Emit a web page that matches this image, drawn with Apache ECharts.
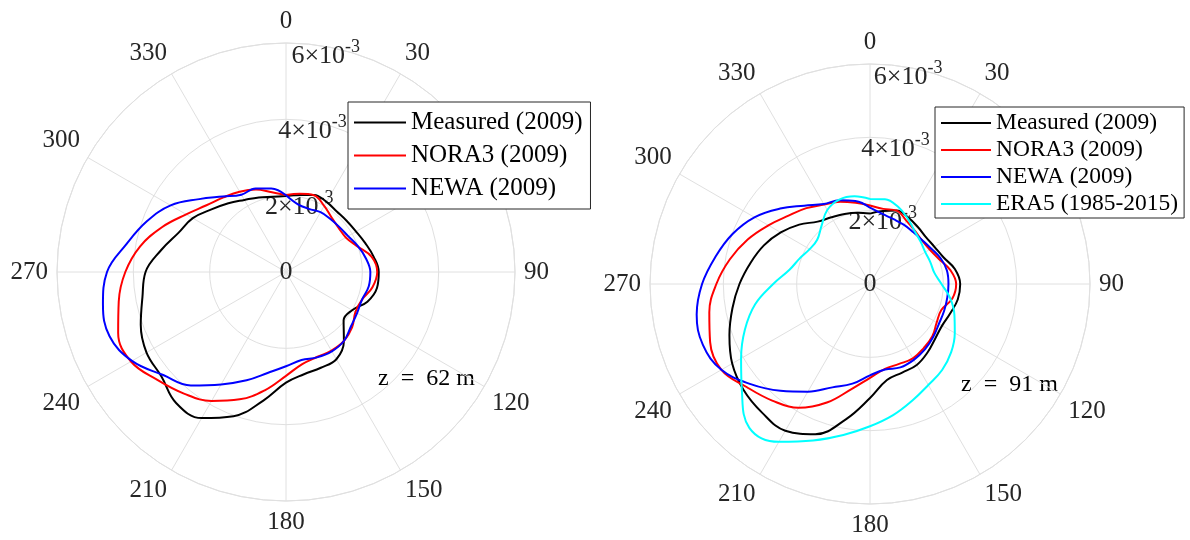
<!DOCTYPE html>
<html>
<head>
<meta charset="utf-8">
<script src="https://cdn.jsdelivr.net/npm/echarts@6/dist/echarts.min.js"></script>
<style>
  html, body { margin: 0; padding: 0; background: #fff; }
  #main { width: 1190px; height: 540px; }
</style>
</head>
<body>
<div id="main"></div>
<script>
// wind direction (deg, clockwise from north)
var dirs = [0,10,20,30,40,50,60,70,80,90,100,110,120,130,140,150,160,170,
            180,190,200,210,220,230,240,250,260,270,280,290,300,310,320,330,340,350];

// values in units of 1e-3, z = 62 m
var measured62 = [1.99,2.05,2.15,2.12,2.07,2.08,2.12,2.21,2.33,2.43,2.42,2.27,2.00,1.97,2.36,2.64,2.67,2.72,
                  2.90,3.42,4.02,4.42,4.48,4.26,4.22,4.05,3.82,3.68,3.32,3.00,2.82,2.55,2.35,2.18,2.08,2.00];
var nora62 = [2.02,2.08,2.14,2.00,1.86,1.80,1.81,1.98,2.28,2.39,2.30,2.12,2.10,2.26,2.36,2.38,2.37,2.45,
              2.72,3.14,3.55,3.90,4.16,4.40,4.69,4.68,4.45,4.21,3.88,3.45,3.02,2.72,2.55,2.43,2.30,2.12];
var newa62 = [2.01,1.80,1.76,1.81,1.81,1.83,1.88,2.00,2.12,2.21,2.20,2.12,2.15,2.22,2.36,2.40,2.38,2.34,
              2.47,2.68,3.02,3.40,3.88,4.20,4.66,4.92,4.87,4.69,4.24,3.88,3.49,2.97,2.58,2.34,2.33,2.22];

// z = 91 m
var measured91 = [1.92,2.02,2.13,2.09,2.03,1.99,2.03,2.13,2.35,2.46,2.43,2.33,2.27,2.32,2.44,2.55,2.57,2.66,
                  3.11,3.74,4.36,4.62,4.58,4.50,4.34,4.08,3.81,3.56,3.31,3.08,2.81,2.52,2.22,2.10,2.03,1.97];
var nora91 = [2.14,2.08,2.13,1.99,1.90,1.85,1.88,2.00,2.22,2.35,2.28,2.07,2.10,2.22,2.28,2.34,2.32,2.35,
              2.56,2.91,3.44,3.90,4.15,4.38,4.68,4.64,4.45,4.19,3.88,3.55,3.20,2.90,2.70,2.50,2.39,2.25];
var newa91 = [2.08,1.94,1.88,1.86,1.84,1.86,1.93,2.05,2.13,2.14,2.14,2.15,2.17,2.25,2.33,2.39,2.42,2.37,
              2.49,2.76,3.00,3.39,3.80,4.25,4.68,4.85,4.80,4.58,4.28,3.99,3.64,3.20,2.79,2.52,2.43,2.30];
var era91 = [2.32,2.35,2.24,2.06,1.89,1.80,1.74,1.75,1.78,1.95,2.22,2.45,2.67,2.89,3.06,3.18,3.38,3.63,
             3.88,4.18,4.54,4.97,5.12,4.56,4.06,3.63,3.18,2.64,2.23,2.04,1.90,1.88,2.06,2.33,2.45,2.43];

var names62 = ['Measured (2009)', 'NORA3 (2009)', 'NEWA (2009)'];
var names91 = ['Measured (2009)', 'NORA3 (2009)', 'NEWA (2009)', 'ERA5 (1985-2015)'];
var colors = ['#000000', '#ff0000', '#0000ff', '#00ffff'];
var heightLabels = ['z  =  62 m', 'z  =  91 m'];
var rMax = 6, rStep = 2;

var FONT = 'Liberation Serif';
var gridColor = '#e0e0e0';
var textColor = '#262626';

function loop(r) {
    var d = [];
    for (var i = 0; i < dirs.length; i++) d.push([r[i], dirs[i]]);
    d.push([r[0], 360]);
    return d;
}

function gridAngle(pi) {
    return {
        polarIndex: pi, type: 'value', min: 0, max: 360, interval: 30,
        startAngle: 90, clockwise: true,
        axisLine: {lineStyle: {color: gridColor, width: 1}},
        axisTick: {show: false},
        splitLine: {lineStyle: {color: gridColor, width: 1}},
        axisLabel: {color: textColor, fontFamily: FONT, fontSize: 25, margin: 9}
    };
}
function gridRadius(pi) {
    return {
        polarIndex: pi, type: 'value', min: 0, max: rMax, interval: rStep,
        axisLine: {show: false}, axisTick: {show: false}, axisLabel: {show: false},
        splitLine: {lineStyle: {color: gridColor, width: 1}}
    };
}
// second polar rotated by 10 deg only to carry the r tick labels
function labelAngle(pi) {
    return {polarIndex: pi, type: 'value', min: 0, max: 360, startAngle: 80, clockwise: true, show: false};
}
function labelRadius(pi) {
    return {
        polarIndex: pi, type: 'value', min: 0, max: rMax, interval: rStep,
        axisLine: {show: false}, axisTick: {show: false}, splitLine: {show: false},
        axisLabel: {
            margin: 0, align: 'center', verticalAlign: 'middle',
            formatter: function (v) {
                return v === 0 ? '{z|0}' : '{m|' + v + '×10}{s|-3}';
            },
            rich: {
                z: {color: textColor, fontFamily: FONT, fontSize: 26, lineHeight: 26},
                m: {color: textColor, fontFamily: FONT, fontSize: 26, lineHeight: 26, padding: [20, 0, 0, 0]},
                s: {color: textColor, fontFamily: FONT, fontSize: 18, verticalAlign: 'top', lineHeight: 18, padding: [5, 0, 0, 0]}
            }
        }
    };
}

function makeSeries(name, vals, pi, ci) {
    return {
        name: name, type: 'line', coordinateSystem: 'polar', polarIndex: pi,
        data: loop(vals), smooth: 0.4, symbol: 'none',
        lineStyle: {color: colors[ci], width: 2}, itemStyle: {color: colors[ci]},
        silent: true, animation: false
    };
}

var myChart = echarts.init(document.getElementById('main'));

option = {
    backgroundColor: '#fff',
    animation: false,
    polar: [
        {center: [286, 272], radius: 229},
        {center: [870, 284], radius: 220},
        {center: [286, 272], radius: 229},
        {center: [870, 284], radius: 220}
    ],
    angleAxis: [gridAngle(0), gridAngle(1), labelAngle(2), labelAngle(3)],
    radiusAxis: [gridRadius(0), gridRadius(1), labelRadius(2), labelRadius(3)],
    legend: [
        {
            data: names62, orient: 'vertical', left: 348, top: 102, icon: 'rect',
            itemWidth: 52, itemHeight: 2, itemGap: 8, padding: [8, 8, 8, 6],
            backgroundColor: '#fff', borderColor: textColor, borderWidth: 1,
            textStyle: {color: '#000', fontFamily: FONT, fontSize: 25, lineHeight: 25},
            selectedMode: false
        },
        {
            data: names91, orient: 'vertical', left: 935, top: 107, icon: 'rect',
            itemWidth: 50, itemHeight: 2, itemGap: 3, padding: [4, 6, 2, 6],
            backgroundColor: '#fff', borderColor: textColor, borderWidth: 1,
            textStyle: {color: '#000', fontFamily: FONT, fontSize: 23.5, lineHeight: 23.5},
            selectedMode: false
        }
    ],
    graphic: [
        {type: 'text', left: 378, top: 367, style: {text: heightLabels[0], fill: '#000', font: '24px "Liberation Serif"'}},
        {type: 'text', left: 961, top: 373, style: {text: heightLabels[1], fill: '#000', font: '24px "Liberation Serif"'}}
    ],
    series: [
        makeSeries(names62[0], measured62, 0, 0),
        makeSeries(names62[1], nora62, 0, 1),
        makeSeries(names62[2], newa62, 0, 2),
        makeSeries(names91[0], measured91, 1, 0),
        makeSeries(names91[1], nora91, 1, 1),
        makeSeries(names91[2], newa91, 1, 2),
        makeSeries(names91[3], era91, 1, 3)
    ]
};

myChart.setOption(option);
</script>
</body>
</html>
